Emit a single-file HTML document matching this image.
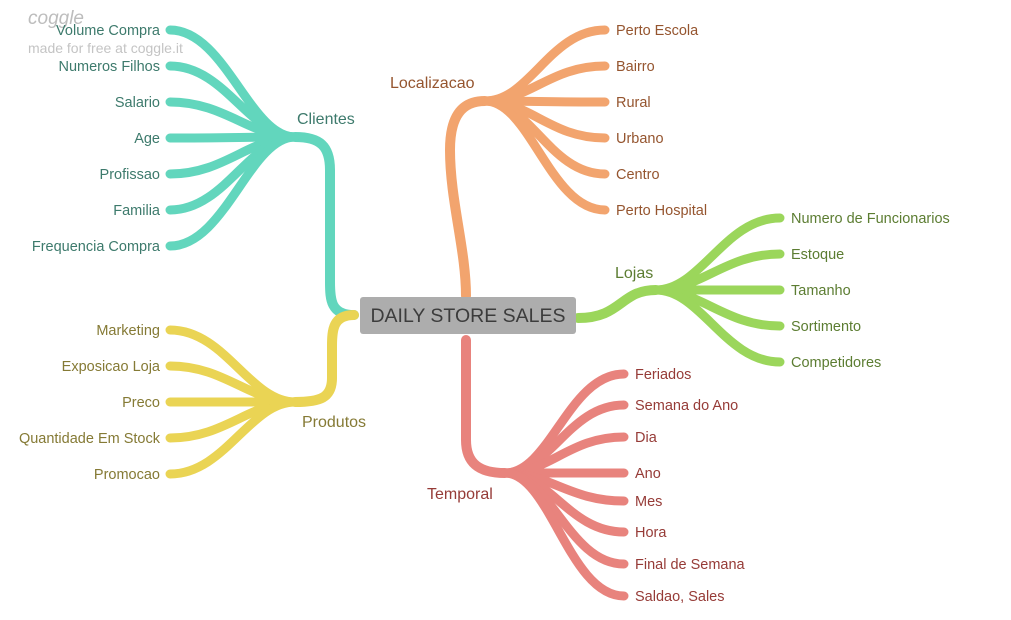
<!DOCTYPE html>
<html><head><meta charset="utf-8"><style>
html,body{margin:0;padding:0;background:#fff;}
svg{display:block;font-family:"Liberation Sans",sans-serif;}
</style></head><body>
<svg id="map" width="1011" height="620" viewBox="0 0 1011 620">
<text x="28" y="24" font-size="19" font-style="italic" fill="#bdbdbd">coggle</text>
<text x="28" y="53" font-size="14" fill="#c4c4c4">made for free at coggle.it</text>
<g id="branches"></g>
<g id="labels"></g>
<rect x="360" y="297" width="216" height="37" rx="3" fill="#adadad"/>
<text x="468" y="322" font-size="19.5" fill="#3c3c3c" text-anchor="middle">DAILY STORE SALES</text>
</svg>
<script>
const clientesLeaves=["Volume Compra","Numeros Filhos","Salario","Age","Profissao","Familia","Frequencia Compra"];
const clientesY=[30,66,102,138,174,210,246];
const produtosLeaves=["Marketing","Exposicao Loja","Preco","Quantidade Em Stock","Promocao"];
const produtosY=[330,366,402,438,474];
const localizacaoLeaves=["Perto Escola","Bairro","Rural","Urbano","Centro","Perto Hospital"];
const localizacaoY=[30,66,102,138,174,210];
const lojasLeaves=["Numero de Funcionarios","Estoque","Tamanho","Sortimento","Competidores"];
const lojasY=[218,254,290,326,362];
const temporalLeaves=["Feriados","Semana do Ano","Dia","Ano","Mes","Hora","Final de Semana","Saldao, Sales"];
const temporalY=[374,405,437,473,501,532,564,596];

const NS="http://www.w3.org/2000/svg";
const gB=document.getElementById('branches'), gL=document.getElementById('labels');
function path(d,color,w,name){
  const p=document.createElementNS(NS,'path');
  p.setAttribute('d',d);p.setAttribute('fill','none');p.setAttribute('stroke',color);
  p.setAttribute('stroke-width',w);p.setAttribute('stroke-linecap','round');
  
  
  gB.appendChild(p);
}
function label(x,y,t,color,anchor,size,name){
  const e=document.createElementNS(NS,'text');
  e.setAttribute('x',x);e.setAttribute('y',y);e.setAttribute('fill',color);
  e.setAttribute('font-size',size);e.setAttribute('text-anchor',anchor);
  e.textContent=t;
  
  
  gL.appendChild(e);
}
function branch(hx,hy,lx,names,ys,color,tcolor,side){
  const dir=lx<hx?-1:1;
  names.forEach((n,i)=>{
    const y=ys[i];
    const d=`M${hx} ${hy} C${hx+dir*45} ${hy},${lx-dir*55} ${y},${lx} ${y}`;
    path(d,color,9,'branch-'+n.toLowerCase().replace(/[^a-z]+/g,'-'));
    const tx=dir<0?lx-10:lx+11;
    label(tx,y+5,n,tcolor,dir<0?'end':'start',14.5,'leaf-'+n.toLowerCase().replace(/[^a-z]+/g,'-'));
  });
}
path("M354 315 C331 315 330 300 330 282 L330 170 C330 146 320 137 295 137","#62d6bd",10,'trunk-clientes');
path("M354 315 C333 315 332 330 332 346 L332 378 C332 398 320 402 295 402","#ead454",10,'trunk-produtos');
path("M466 296 C466 250 450 200 450 150 C450 116 462 101 485 101","#f2a46e",10,'trunk-localizacao');
path("M466 340 L466 440 C466 464 480 473 505 473","#e8837d",10,'trunk-temporal');
path("M578 318 C622 318 620 290 656 290","#9bd65b",10,'trunk-lojas');
branch(295,137,170,clientesLeaves,clientesY,"#62d6bd","#3d7a6c",-1);
branch(295,402,170,produtosLeaves,produtosY,"#ead454","#857a35",-1);
branch(485,101,605,localizacaoLeaves,localizacaoY,"#f2a46e","#95552f",1);
branch(656,290,780,lojasLeaves,lojasY,"#9bd65b","#5c7d32",1);
branch(505,473,624,temporalLeaves,temporalY,"#e8837d","#963b37",1);
label(297,124,"Clientes","#3d7a6c","start",16,'branch-label-clientes');
label(302,427,"Produtos","#857a35","start",16,'branch-label-produtos');
label(390,88,"Localizacao","#95552f","start",16,'branch-label-localizacao');
label(615,278,"Lojas","#5c7d32","start",16,'branch-label-lojas');
label(427,499,"Temporal","#963b37","start",16,'branch-label-temporal');
</script>
</body></html>
